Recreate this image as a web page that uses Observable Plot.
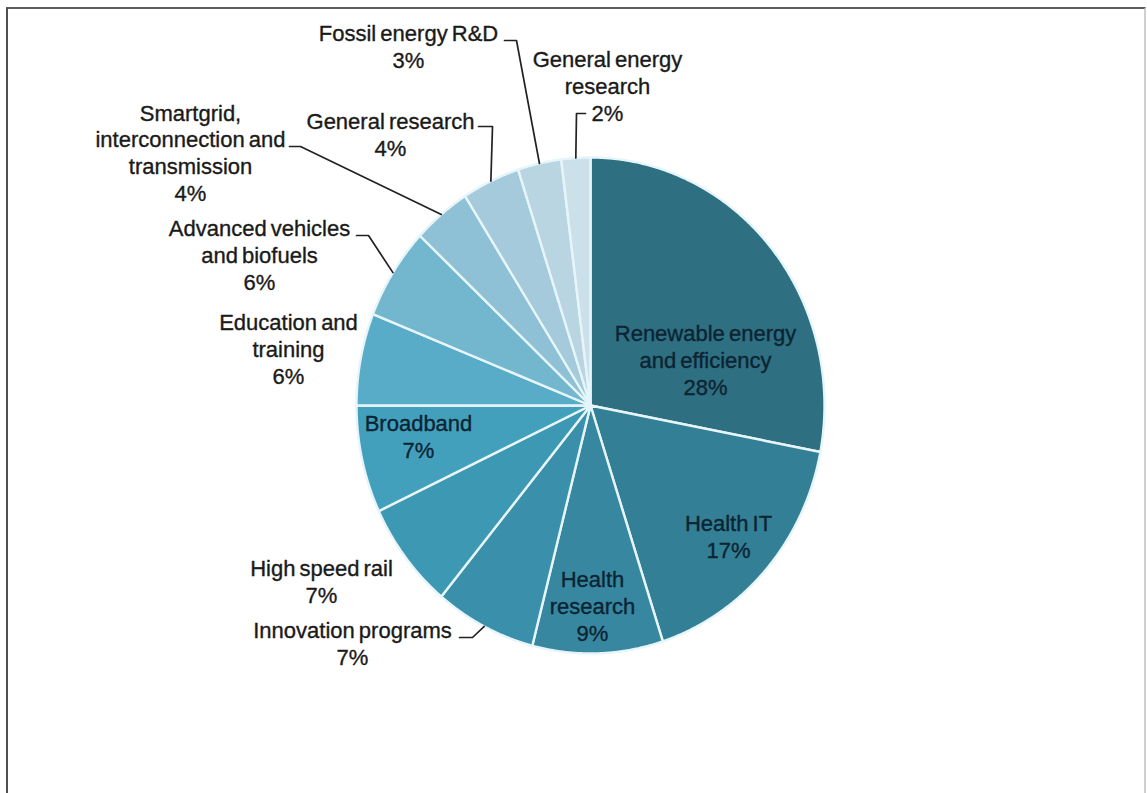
<!DOCTYPE html>
<html>
<head>
<meta charset="utf-8">
<script src="https://cdn.jsdelivr.net/npm/d3@7"></script>
<script src="https://cdn.jsdelivr.net/npm/@observablehq/plot@0.6"></script>
<style>
  html, body { margin: 0; padding: 0; background: #fff; }
  #wrap { position: relative; width: 1147px; height: 793px; overflow: hidden; }
  #chart svg { display: block; }
  #frame {
    position: absolute; left: 6px; top: 7px; width: 1140px; height: 820px;
    box-sizing: border-box; pointer-events: none;
    border-top: 2px solid #5e5e5e; border-left: 2px solid #505050; border-right: 2px solid #cfcfcf;
  }
</style>
</head>
<body>
<div id="wrap"><div id="chart"></div><div id="frame"></div></div>
<script>
// Spending categories, clockwise from 12 o'clock
const categories = [
  "Renewable energy and efficiency",
  "Health IT",
  "Health research",
  "Innovation programs",
  "High speed rail",
  "Broadband",
  "Education and training",
  "Advanced vehicles and biofuels",
  "Smartgrid, interconnection and transmission",
  "General research",
  "Fossil energy R&D",
  "General energy research"
];

// Share of the total, in percent
const shares = [28, 17, 9, 7, 7, 7, 6, 6, 4, 4, 3, 2];

// Label text as broken across lines
const labelLines = [
  ["Renewable energy", "and efficiency"],
  ["Health IT"],
  ["Health", "research"],
  ["Innovation programs"],
  ["High speed rail"],
  ["Broadband"],
  ["Education and", "training"],
  ["Advanced vehicles", "and biofuels"],
  ["Smartgrid,", "interconnection and", "transmission"],
  ["General research"],
  ["Fossil energy R&D"],
  ["General energy", "research"]
];

// Slice fills, dark to light
const sliceColors = [
  "#2e6f81", "#337f95", "#3787a1", "#3a90ab", "#3d98b4", "#42a0bd",
  "#58acc8", "#73b7cf", "#8ec1d5", "#a4cadb", "#b9d5e1", "#cce0e9"
];

// Pie geometry (pixels)
const cx = 590, cy = 405, rx = 234, ry = 248;

// Label placement: centre x, baseline of last line, inside/outside, leader elbow
const labelLayout = {
  "Renewable energy and efficiency": {x: 705, y: 394, inside: true},
  "Health IT": {x: 728, y: 557, inside: true},
  "Health research": {x: 592, y: 640, inside: true},
  "Innovation programs": {x: 352, y: 664, leader: [[459, 637], [472, 637]]},
  "High speed rail": {x: 321, y: 602},
  "Broadband": {x: 418, y: 457, inside: true},
  "Education and training": {x: 288, y: 383},
  "Advanced vehicles and biofuels": {x: 259, y: 289, leader: [[356, 235], [368, 235]]},
  "Smartgrid, interconnection and transmission": {x: 190, y: 200, leader: [[289, 146], [300, 146]]},
  "General research": {x: 390, y: 155, leader: [[478, 126], [492, 126]]},
  "Fossil energy R&D": {x: 408, y: 67, leader: [[504, 40], [516, 40]]},
  "General energy research": {x: 607, y: 120, leader: [[585, 113], [576, 113]]}
};

const rows = categories.map((name, i) => ({name, share: shares[i], lines: labelLines[i]}));
const arcs = d3.pie().sort(null).value(d => d.share).startAngle(0).endAngle(2 * Math.PI)(rows);

const rim = (a, k = 1) => [cx + rx * k * Math.sin(a), cy - ry * k * Math.cos(a)];

// Polygon outline of each slice: centre, arc, centre
const slicePoints = arcs.flatMap(p => {
  const name = p.data.name;
  const n = Math.max(4, Math.ceil((p.endAngle - p.startAngle) / 0.005));
  const pts = [{name, x: cx, y: cy}];
  for (let i = 0; i <= n; ++i) {
    const [x, y] = rim(p.startAngle + (p.endAngle - p.startAngle) * i / n);
    pts.push({name, x, y});
  }
  pts.push({name, x: cx, y: cy});
  return pts;
});

// Leader lines from label elbow to the slice rim at its mid-angle
const leaderPoints = arcs.flatMap(p => {
  const L = labelLayout[p.data.name];
  if (!L.leader) return [];
  const [ex, ey] = rim((p.startAngle + p.endAngle) / 2, 1.0);
  return [...L.leader.map(([x, y]) => ({name: p.data.name, x, y})), {name: p.data.name, x: ex, y: ey}];
});

const labels = rows.map(d => ({
  ...labelLayout[d.name],
  text: [...d.lines, `${d.share}%`].join("\n")
}));

const chart = Plot.plot({
  width: 1147,
  height: 793,
  margin: 0,
  x: {domain: [0, 1147], range: [0, 1147], axis: null},
  y: {domain: [0, 793], range: [0, 793], axis: null},
  color: {type: "ordinal", domain: categories, range: sliceColors},
  style: {fontFamily: "'Liberation Sans', Arial, sans-serif", background: "transparent", wordSpacing: "-2px"},
  marks: [
    Plot.line(slicePoints, {
      x: "x", y: "y", z: "name", fill: "name",
      stroke: "#e6f5fa", strokeWidth: 2.4, strokeLinejoin: "round"
    }),
    Plot.line(leaderPoints, {x: "x", y: "y", z: "name", stroke: "#222", strokeWidth: 1.7}),
    Plot.text(labels.filter(d => !d.inside), {
      x: "x", y: "y", text: "text", textAnchor: "middle", lineAnchor: "bottom",
      lineHeight: 1.21, fontSize: 22, fill: "#1a1a1a", stroke: "#1a1a1a", strokeWidth: 0.35
    }),
    Plot.text(labels.filter(d => d.inside), {
      x: "x", y: "y", text: "text", textAnchor: "middle", lineAnchor: "bottom",
      lineHeight: 1.21, fontSize: 22, fill: "#0c2432", stroke: "#0c2432", strokeWidth: 0.35
    })
  ]
});

document.getElementById("chart").append(chart);
</script>
</body>
</html>
